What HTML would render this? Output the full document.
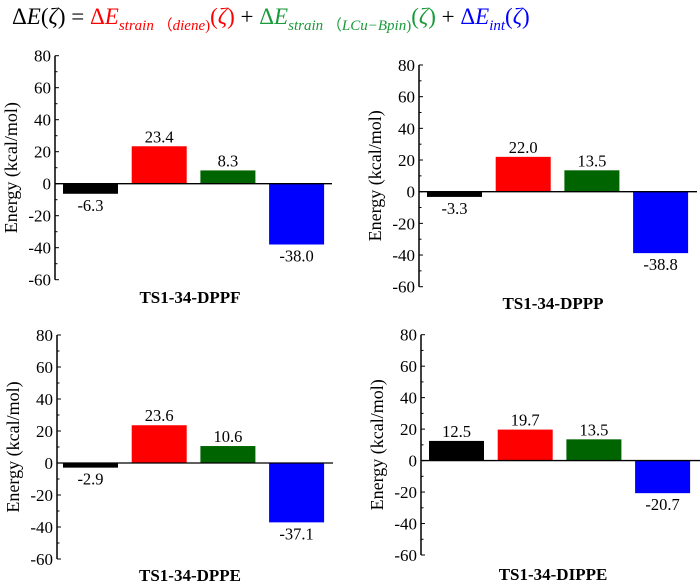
<!DOCTYPE html>
<html><head><meta charset="utf-8"><style>
body{margin:0;background:#fff;width:700px;height:587px;overflow:hidden;position:relative}
#eq{position:absolute;left:12px;top:0px;font-family:"Liberation Serif",serif;font-size:23px;white-space:nowrap;line-height:34px}
#eq i{font-style:italic}
#eq sub{font-size:15px;vertical-align:-6px}
svg{position:absolute;left:0;top:0}
</style></head><body>
<div id="eq"><span>Δ<i>E</i>(<i>ζ</i>) = </span><span style="color:#f00">Δ<i>E</i><sub><i>strain</i> （<i>diene</i>)</sub>(<i>ζ</i>)</span> + <span style="color:#1a9a3a">Δ<i>E</i><sub><i>strain</i> （<i>LCu−Bpin</i>)</sub>(<i>ζ</i>)</span> + <span style="color:#00f">Δ<i>E</i><sub><i>int</i></sub>(<i>ζ</i>)</span></div>
<svg id="chart" width="700" height="587"></svg>
<script>
const panelNames = ["TS1-34-DPPF","TS1-34-DPPP","TS1-34-DPPE","TS1-34-DIPPE"];
const valsDPPF = [-6.3, 23.4, 8.3, -38.0];
const valsDPPP = [-3.3, 22.0, 13.5, -38.8];
const valsDPPE = [-2.9, 23.6, 10.6, -37.1];
const valsDIPPE = [12.5, 19.7, 13.5, -20.7];
const yTicks = [80, 60, 40, 20, 0, -20, -40, -60];
const seriesColors = ["#000000", "#ff0000", "#006400", "#0000ff"];
const allVals = [valsDPPF, valsDPPP, valsDPPE, valsDIPPE];
const layout = [
  {ax:55, top:55.7, bot:279.7, b0:63, lineEnd:332, tx:190, ty:303},
  {ax:419, top:65, bot:286.7, b0:427, lineEnd:697, tx:553, ty:309},
  {ax:57, top:335, bot:559, b0:63, lineEnd:333, tx:190, ty:581},
  {ax:421, top:334.7, bot:555, b0:429, lineEnd:700, tx:553, ty:580}
];
const NS="http://www.w3.org/2000/svg";
const svg=document.getElementById('chart');
function mk(t,a,p){const e=document.createElementNS(NS,t);for(const k in a)e.setAttribute(k,a[k]);(p||svg).appendChild(e);return e;}
layout.forEach((L,pi)=>{
  const g=mk('g',{});
  
  
  const y=v=>L.bot-(v+60)/140*(L.bot-L.top);
  const bw=55, step=68.7;
  allVals[pi].forEach((v,i)=>{
    const x=L.b0+i*step;
    const r=mk('rect',{x:x,y:Math.min(y(v),y(0)),width:bw,height:Math.abs(y(v)-y(0)),fill:seriesColors[i]},g);
    
    
    const ly=v>=0?y(v)-4:y(v)+17;
    const t=mk('text',{x:x+bw/2,y:ly,'text-anchor':'middle','font-family':'Liberation Serif, serif','font-size':'16.5'},g);
    t.textContent=v.toFixed(1);
    
    
  });
  mk('line',{x1:L.ax,x2:L.lineEnd,y1:y(0),y2:y(0),stroke:'#000','stroke-width':1.3},g);
  mk('line',{x1:L.ax,x2:L.ax,y1:L.top,y2:L.bot,stroke:'#000','stroke-width':1.5},g);
  yTicks.forEach(tv=>{
    mk('line',{x1:L.ax,x2:L.ax+4,y1:y(tv),y2:y(tv),stroke:'#000','stroke-width':1},g);
    if(tv>-60) mk('line',{x1:L.ax,x2:L.ax+2.5,y1:y(tv-10),y2:y(tv-10),stroke:'#000','stroke-width':1},g);
    const t=mk('text',{x:L.ax-4,y:y(tv)+6,'text-anchor':'end','font-family':'Liberation Serif, serif','font-size':'17'},g);
    t.textContent=tv;
    
    
  });
  const cy=(L.top+L.bot)/2;
  const yl=mk('text',{x:0,y:0,transform:`translate(${L.ax-38},${cy}) rotate(-90)`,'text-anchor':'middle','font-family':'Liberation Serif, serif','font-size':'18'},g);
  yl.textContent='Energy  (kcal/mol)';
  
  
  const tt=mk('text',{x:L.tx,y:L.ty,'text-anchor':'middle','font-family':'Liberation Serif, serif','font-size':'17','font-weight':'bold'},g);
  tt.textContent=panelNames[pi];
  
  
});
</script>
</body></html>
